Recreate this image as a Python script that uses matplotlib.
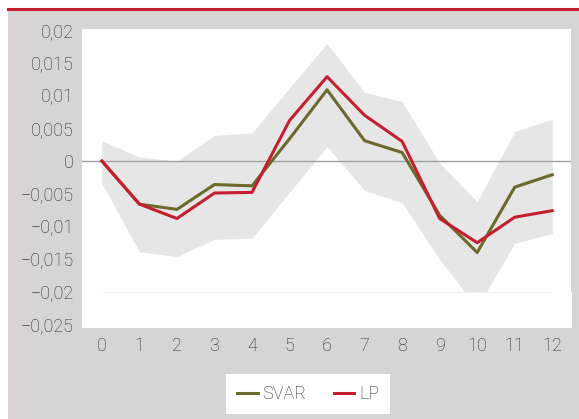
import numpy as np
import matplotlib
matplotlib.use("Agg")
import matplotlib.pyplot as plt

# horizons
horizon = list(range(13))

svar = [0.0, -0.0066, -0.0074, -0.0036, -0.0038, 0.0034, 0.0109,
        0.0031, 0.0013, -0.0083, -0.0140, -0.0040, -0.0021]
lp = [0.0, -0.0066, -0.0088, -0.0049, -0.0048, 0.0062, 0.0129,
      0.0070, 0.0030, -0.0088, -0.0125, -0.0086, -0.0076]
band_upper = [0.0031, 0.0006, 0.0000, 0.0039, 0.0043, 0.0112, 0.0180,
              0.0105, 0.0091, -0.0003, -0.0062, 0.0045, 0.0064]
band_lower = [-0.0034, -0.0139, -0.0146, -0.0120, -0.0118, -0.0048, 0.0022,
              -0.0045, -0.0064, -0.0151, -0.0224, -0.0126, -0.0111]
band_floor = -0.02

yticks = [0.02, 0.015, 0.01, 0.005, 0, -0.005, -0.01, -0.015, -0.02, -0.025]
ytick_labels = ["0,02", "0,015", "0,01", "0,005", "0", "\u22120,005", "\u22120,01",
                "\u22120,015", "\u22120,02", "\u22120,025"]

BG = "#d9d4d4"
OLIVE = "#6b6a2c"
RED = "#c41f30"
BAND = "#e6e6e6"
TXT = "#2a2a2a"

plt.rcParams["font.family"] = ["Roboto", "DejaVu Sans"]
plt.rcParams["font.weight"] = "light"

W, H = 579, 419
fig = plt.figure(figsize=(W / 100, H / 100), dpi=100)
fig.patch.set_facecolor("white")

# gray frame + red top rule
bg = fig.add_axes([8 / W, 0, 1 - 8 / W, 1 - 9 / H], zorder=-1)
bg.set_facecolor(BG)
bg.set_xticks([])
bg.set_yticks([])
for s in bg.spines.values():
    s.set_visible(False)
bg.axhline(1.0, color=RED, lw=2.2, clip_on=False)

left, right, top, bottom = 82, 571, 29, 327
ax = fig.add_axes([left / W, 1 - bottom / H, (right - left) / W, (bottom - top) / H])
ax.set_facecolor("white")

x = np.array(horizon)
ax.fill_between(x, band_lower, band_upper, color=BAND, lw=0, zorder=1)
# band is clipped at the floor (stacked area base)
ax.fill_between([-1, 13], -0.03, band_floor, color="white", lw=0, zorder=1.5)
ax.plot([0, 12], [band_floor, band_floor], color="#f3f3f3", lw=0.8, zorder=1.6)

ax.axhline(0, color="#a0a0a0", lw=1.0, zorder=2)
ax.plot(x, svar, color=OLIVE, lw=2.2, zorder=3, label="SVAR")
ax.plot(x, lp, color=RED, lw=2.2, zorder=4, label="LP")

ax.set_xlim(-0.53, 12.5)
ax.set_ylim(-0.0254, 0.0202)
ax.set_xticks(horizon)
ax.set_xticklabels([str(h) for h in horizon])
ax.set_yticks(yticks)
ax.set_yticklabels(ytick_labels)
ax.tick_params(length=0, labelsize=13, colors=TXT, pad=6)
ax.tick_params(axis="x", pad=7)
for s in ax.spines.values():
    s.set_visible(False)

leg = fig.legend(loc="center", bbox_to_anchor=(308 / W, 1 - 394 / H), ncol=2,
                 frameon=True, fancybox=False, framealpha=1, fontsize=13,
                 handlelength=1.15, handletextpad=0.25, columnspacing=1.5, borderpad=0.6)
leg.get_frame().set_facecolor("white")
leg.get_frame().set_edgecolor("none")
for t in leg.get_texts():
    t.set_color(TXT)

fig.savefig("out.png", dpi=100, facecolor=fig.get_facecolor())
